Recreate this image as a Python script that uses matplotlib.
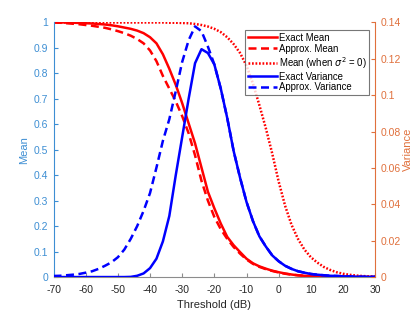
import numpy as np
import matplotlib
matplotlib.use("Agg")
from matplotlib import pyplot as plt

plt.rcParams['font.family'] = ['Liberation Sans', 'DejaVu Sans']

# threshold grid (dB), every 2 dB from -70 to 30
thr = np.arange(-70, 31, 2)

exact_mean = [1.0, 1.0, 1.0, 0.999, 0.998, 0.997, 0.996, 0.994, 0.992, 0.989,
              0.985, 0.98, 0.975, 0.968, 0.958, 0.942, 0.918, 0.875, 0.818, 0.755,
              0.683, 0.604, 0.525, 0.43, 0.335, 0.27, 0.21, 0.158, 0.125, 0.098,
              0.072, 0.054, 0.042, 0.033, 0.025, 0.019, 0.014, 0.01, 0.007, 0.005,
              0.004, 0.003, 0.002, 0.0015, 0.001, 0.001, 0.0005, 0.0003, 0.0002, 0.0001, 0.0]

approx_mean = [1.0, 0.999, 0.997, 0.995, 0.993, 0.99, 0.987, 0.983, 0.979, 0.973,
               0.966, 0.958, 0.948, 0.935, 0.918, 0.89, 0.848, 0.79, 0.74, 0.69,
               0.632, 0.565, 0.478, 0.378, 0.30, 0.236, 0.188, 0.15, 0.118, 0.092,
               0.069, 0.052, 0.04, 0.031, 0.024, 0.018, 0.013, 0.0095, 0.007, 0.005,
               0.0035, 0.0025, 0.002, 0.0015, 0.001, 0.001, 0.0005, 0.0003, 0.0002, 0.0001, 0.0]

mean_nonoise = [1.0] * 18 + [
    0.999, 0.999, 0.998, 0.997, 0.994, 0.99, 0.984, 0.975, 0.962, 0.942,
    0.915, 0.88, 0.83, 0.76, 0.675, 0.585, 0.485, 0.375, 0.28, 0.205,
    0.15, 0.108, 0.078, 0.057, 0.04, 0.028, 0.019, 0.013, 0.009, 0.006,
    0.004, 0.003, 0.002]

exact_var = [0.0] * 12 + [
    0.0001, 0.0007, 0.002, 0.0049, 0.0101, 0.0196, 0.0336, 0.056, 0.077, 0.098,
    0.1176, 0.1253, 0.1232, 0.1169, 0.1036, 0.0875, 0.0693, 0.0546, 0.0413, 0.0308,
    0.0224, 0.0168, 0.0119, 0.0087, 0.0062, 0.0045, 0.0032, 0.0024, 0.0017, 0.0013,
    0.001, 0.0007, 0.0006, 0.0004, 0.0003, 0.0002, 0.00015, 0.0001, 0.0001]

approx_var = [0.0006, 0.0007, 0.001, 0.0013, 0.0017, 0.0024, 0.0032, 0.0045, 0.0062, 0.0081,
              0.0109, 0.0151, 0.021, 0.028, 0.0364, 0.0462, 0.0602, 0.0749, 0.0868, 0.1022,
              0.1183, 0.1302, 0.1378, 0.1352, 0.1267] + exact_var[25:]

x_ticks = list(range(-70, 31, 10))
left_ticks = [0, 0.1, 0.2, 0.3, 0.4, 0.5, 0.6, 0.7, 0.8, 0.9, 1]
left_labels = ['0', '0.1', '0.2', '0.3', '0.4', '0.5', '0.6', '0.7', '0.8', '0.9', '1']
right_ticks = [0, 0.02, 0.04, 0.06, 0.08, 0.1, 0.12, 0.14]
right_labels = ['0', '0.02', '0.04', '0.06', '0.08', '0.1', '0.12', '0.14']

c_left = '#3D8ED3'
c_right = '#E0703C'
c_ax = '#262626'
lw = 1.8

fig = plt.figure(figsize=(4.15, 3.12), dpi=100)
ax = fig.add_axes([0.129, 0.112, 0.775, 0.816])
ax2 = ax.twinx()

l1, = ax.plot(thr, exact_mean, color='red', lw=lw, label='Exact Mean')
l2, = ax.plot(thr, approx_mean, color='red', lw=lw, ls=(0, (3.2, 1.8)), label='Approx. Mean')
l3, = ax.plot(thr, mean_nonoise, color='red', lw=lw, ls=(0, (0.7, 0.7)),
              label='Mean (when $\\sigma^2$ = 0)')
l4, = ax2.plot(thr, exact_var, color='blue', lw=lw, label='Exact Variance')
l5, = ax2.plot(thr, approx_var, color='blue', lw=lw, ls=(0, (3.2, 1.8)), label='Approx. Variance')

ax.set_xlim(-70, 30)
ax.set_ylim(0, 1)
ax2.set_ylim(0, 0.14)
ax.set_xticks(x_ticks)
ax.set_xticklabels([str(t) for t in x_ticks])
ax.set_yticks(left_ticks)
ax.set_yticklabels(left_labels)
ax2.set_yticks(right_ticks)
ax2.set_yticklabels(right_labels)

for a in (ax, ax2):
    a.spines['top'].set_visible(False)
ax2.spines['left'].set_visible(False)
ax2.spines['bottom'].set_visible(False)
ax.spines['right'].set_visible(False)
ax.spines['left'].set_color(c_left)
ax2.spines['right'].set_color(c_right)
ax.spines['bottom'].set_color('#8c8c8c')

ax.tick_params(axis='x', direction='in', length=3, colors='#8c8c8c', labelcolor=c_ax,
               labelsize=7.5, pad=6)
ax.tick_params(axis='y', direction='in', length=3, colors=c_left, labelsize=7.5, pad=4)
ax2.tick_params(axis='y', direction='in', length=3, colors=c_right, labelsize=7.5, pad=4)

ax.set_xlabel('Threshold (dB)', fontsize=8, color=c_ax, labelpad=3)
ax.set_ylabel('Mean', fontsize=8, color=c_left, labelpad=3)
ax2.set_ylabel('Variance', fontsize=8, color=c_right, labelpad=1)

leg = ax2.legend(handles=[l1, l2, l3, l4, l5], loc='upper right',
                 bbox_to_anchor=(0.89, 0.904), bbox_transform=fig.transFigure,
                 fontsize=6.9, frameon=True, fancybox=False, borderaxespad=0,
                 handlelength=3.0, handletextpad=0.2, labelspacing=0.1,
                 borderpad=0.3)
leg.get_frame().set_edgecolor('#555555')
leg.get_frame().set_linewidth(0.8)

fig.savefig('out.png', dpi=100)
